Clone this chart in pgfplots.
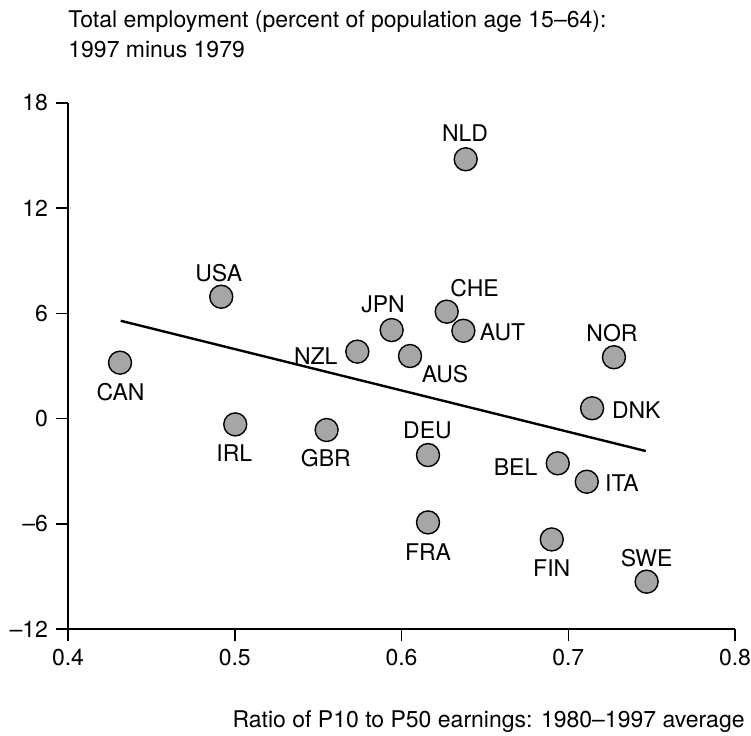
\documentclass[border=0pt]{standalone}
\usepackage{pgfplots}
\pgfplotsset{compat=1.18}
\usepackage{fontspec}
\setmainfont{TeX Gyre Heros}
\definecolor{dotgray}{RGB}{166,166,166}
\begin{document}
\fontsize{11.5}{14}\selectfont
\begin{tikzpicture}
\begin{axis}[
  scale only axis,
  width=333.5pt, height=263pt,
  xmin=0.4, xmax=0.8, ymin=-12, ymax=18,
  axis lines=left,
  axis line style={-, line width=0.75pt},
  tick align=outside,
  major tick length=6pt,
  every tick/.style={black, line width=0.75pt},
  xtick={0.4,0.5,0.6,0.7,0.8},
  xticklabels={0.4,0.5,0.6,0.7,0.8},
  ytick={-12,-6,0,6,12,18},
  yticklabels={–12,–6,0,6,12,18},
  /pgf/number format/assume math mode=true,
  tick label style={font=\fontsize{11.5}{14}\selectfont},
  clip=false,
]
\addplot[only marks, mark=*, mark size=5.75pt,
  mark options={fill=dotgray, draw=black, line width=0.7pt}] coordinates {
  (0.4312,3.19) (0.4919,6.95) (0.5003,-0.33) (0.5551,-0.65)
  (0.5735,3.82) (0.5941,5.05) (0.6051,3.57) (0.6271,6.10)
  (0.6371,5.01) (0.6385,14.79) (0.6159,-2.08) (0.6159,-5.92)
  (0.6901,-6.89) (0.6937,-2.55) (0.7111,-3.60) (0.7143,0.59)
  (0.7274,3.50) (0.7470,-9.30)
};
\addplot[black, line width=1.2pt] coordinates {(0.4316,5.58) (0.7465,-1.85)};
\begin{scope}[every node/.style={font=\fontsize{11.5}{14}\selectfont, inner sep=0pt}]
\node at (axis cs:0.4315,1.53) {CAN};
\node at (axis cs:0.4904,8.32) {USA};
\node at (axis cs:0.4997,-1.95) {IRL};
\node at (axis cs:0.5546,-2.26) {GBR};
\node at (axis cs:0.5486,3.57) {NZL};
\node at (axis cs:0.5889,6.54) {JPN};
\node at (axis cs:0.6261,2.54) {AUS};
\node at (axis cs:0.6438,7.42) {CHE};
\node at (axis cs:0.6606,4.91) {AUT};
\node at (axis cs:0.6381,16.29) {NLD};
\node at (axis cs:0.6156,-0.65) {DEU};
\node at (axis cs:0.6159,-7.63) {FRA};
\node at (axis cs:0.6901,-8.52) {FIN};
\node at (axis cs:0.6684,-2.74) {BEL};
\node at (axis cs:0.7322,-3.69) {ITA};
\node at (axis cs:0.7408,0.46) {DNK};
\node at (axis cs:0.7262,4.85) {NOR};
\node at (axis cs:0.7470,-7.93) {SWE};
\end{scope}
\node[anchor=south west, align=left, inner sep=0pt, font=\fontsize{11.5}{15}\selectfont]
  at ([yshift=22.5pt]rel axis cs:0,1) {Total employment (percent of population age 15–64):\\1997 minus 1979};
\node[anchor=base east, inner sep=0pt] at ([xshift=5pt,yshift=-49pt]rel axis cs:1,0) {Ratio of P10 to P50 earnings: 1980–1997 average};
\coordinate (bl) at ([xshift=-34pt,yshift=-53pt]rel axis cs:0,0);
\coordinate (tr) at ([xshift=8pt,yshift=51.5pt]rel axis cs:1,1);
\end{axis}
\pgfresetboundingbox
\path[use as bounding box] (bl) rectangle (tr);
\end{tikzpicture}
\end{document}
